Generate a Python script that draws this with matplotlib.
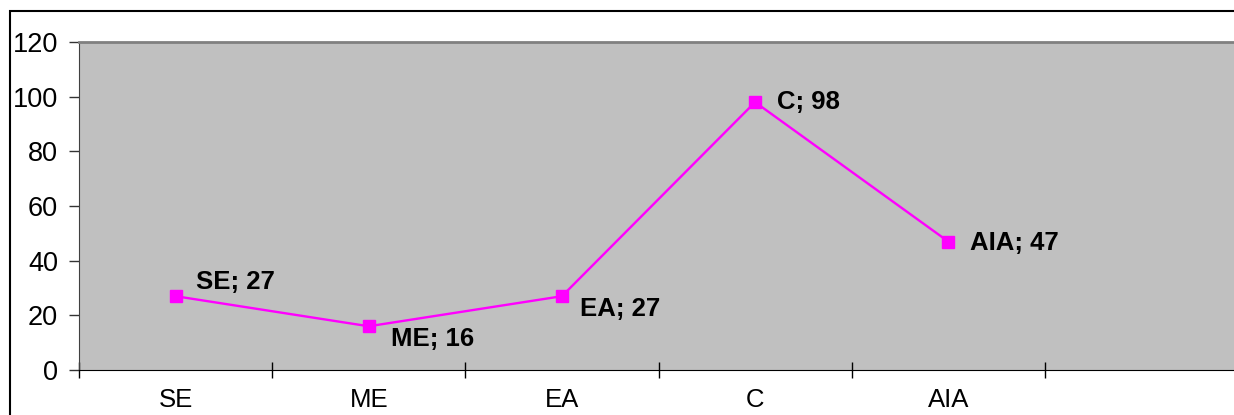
import matplotlib
matplotlib.use("Agg")
import matplotlib.pyplot as plt
from matplotlib.patches import Rectangle

categories = ["SE", "ME", "EA", "C", "AIA"]
values = [27, 16, 27, 98, 47]
yticks = [0, 20, 40, 60, 80, 100, 120]
# label offsets in points (dx, dy)
offsets = [(15, 10), (16, -9), (13, -9), (16, 0), (16, -1)]

plt.rcParams['font.family'] = ['Liberation Sans', 'DejaVu Sans']

fig = plt.figure(figsize=(12.34, 4.15), dpi=100)
fig.patches.append(Rectangle((10/1234, -0.1), 1.2, 1 - 11/415 + 0.1,
                             transform=fig.transFigure, fill=False,
                             edgecolor='black', linewidth=1.5))

ax = fig.add_axes([79/1234, 1 - 370/415, (1238 - 79)/1234, (370 - 42)/415])
ax.set_facecolor('#c0c0c0')

x = [i + 0.5 for i in range(len(categories))]
ax.plot(x, values, color='#ff00ff', linewidth=1.7, marker='s', markersize=8,
        markerfacecolor='#ff00ff', markeredgecolor='#ff00ff', clip_on=False)

for xi, v, c, (dx, dy) in zip(x, values, categories, offsets):
    ax.annotate(f"{c}; {v}", (xi, v), xytext=(dx, dy), textcoords='offset points',
                ha='left', va='center', fontsize=18.5, fontweight='bold', color='black')

ax.set_xlim(0, 6)
ax.set_ylim(0, 120)
ax.set_yticks(yticks)
ax.set_yticklabels([str(t) for t in yticks], fontsize=19.5)
ax.set_xticks(range(0, 7))
ax.set_xticklabels([])
ax.set_xticks(x, minor=True)
ax.set_xticklabels(categories, minor=True, fontsize=18.5)
ax.tick_params(axis='x', which='major', direction='inout', length=12, width=1, color='black')
ax.tick_params(axis='x', which='minor', length=0, pad=13)
ax.tick_params(axis='y', direction='out', length=7, width=1, color='#333333', pad=8)

ax.spines['top'].set_color('#808080')
ax.spines['top'].set_linewidth(2)
ax.spines['right'].set_visible(False)
ax.spines['left'].set_color('#404040')
ax.spines['bottom'].set_color('black')

fig.savefig('out.png', dpi=100)
